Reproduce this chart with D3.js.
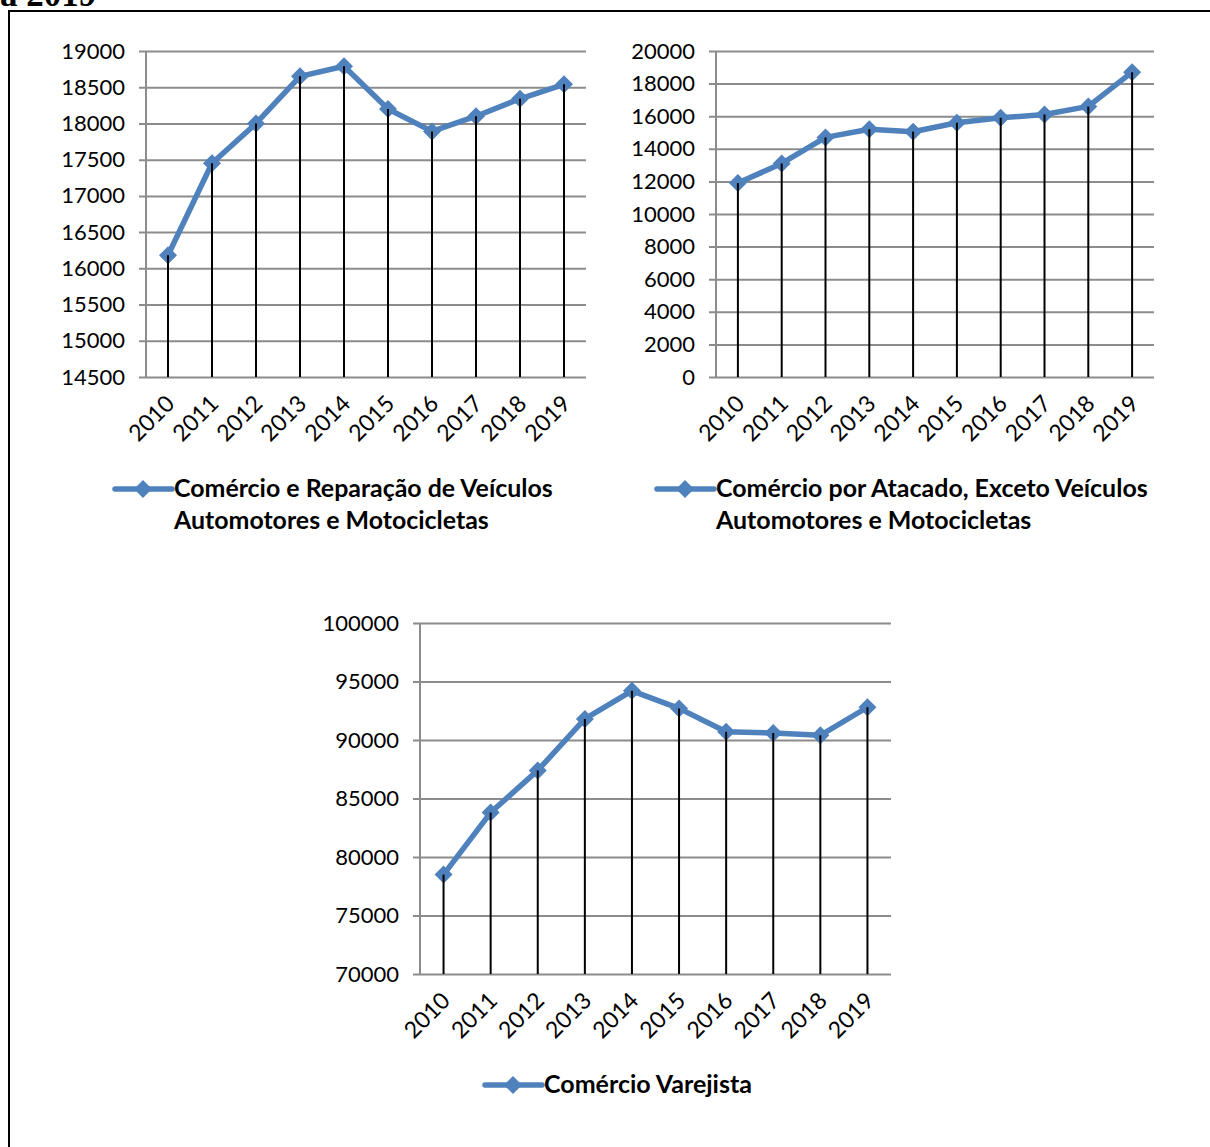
<!DOCTYPE html>
<html><head><meta charset="utf-8">
<script src="https://cdn.jsdelivr.net/npm/d3@7"></script>
<style>
html,body{margin:0;padding:0;background:#fff;}
svg{display:block;}
text{font-family:Lato,"Open Sans",sans-serif;}
</style></head>
<body>
<svg id="c" width="1210" height="1147"></svg>
<script>
const years = ["2010","2011","2012","2013","2014","2015","2016","2017","2018","2019"];
const veiculos = [16180,17450,18000,18650,18790,18200,17890,18100,18340,18540];
const atacado = [11900,13100,14700,15200,15050,15600,15900,16100,16600,18700];
const varejista = [78500,83800,87400,91800,94200,92700,90700,90600,90400,92800];
const ticks1 = [14500,15000,15500,16000,16500,17000,17500,18000,18500,19000];
const ticks2 = [0,2000,4000,6000,8000,10000,12000,14000,16000,18000,20000];
const ticks3 = [70000,75000,80000,85000,90000,95000,100000];
const legend1 = ["Comércio e Reparação de Veículos","Automotores e Motocicletas"];
const legend2 = ["Comércio por Atacado, Exceto Veículos","Automotores e Motocicletas"];
const legend3 = ["Comércio Varejista"];

const svg = d3.select("#c");
const BLUE = "#4F81BD", GRID = "#8c8c8c";

svg.append("rect").attr("x",9).attr("y",11).attr("width",1230).attr("height",1200)
  .attr("fill","none").attr("stroke","#000").attr("stroke-width",2);
svg.append("text").attr("x",0).attr("y",6).text("a 2019")
  .style("font-family","'Liberation Serif',serif").style("font-weight","bold").style("font-size","35px");

function diamond(sel, x, y, r){
  sel.append("path").attr("d",`M${x},${y-r}L${x+r},${y}L${x},${y+r}L${x-r},${y}Z`).attr("fill",BLUE);
}

function chart(o){
  const g = svg.append("g");
  const x = d3.scaleBand().domain(years).range([o.x0,o.x1]);
  const y = d3.scaleLinear().domain([o.ticks[0],o.ticks[o.ticks.length-1]]).range([o.y1,o.y0]);
  const yAxis = d3.axisLeft(y).tickValues(o.ticks).tickSize(-(o.x1-o.x0)).tickPadding(21).tickFormat(d3.format("d"));
  const ga = g.append("g").attr("transform",`translate(${o.x0},0)`).call(yAxis);
  ga.select(".domain").remove();
  ga.selectAll(".tick line").attr("stroke",GRID).attr("stroke-width",2).attr("x1",-7);
  ga.selectAll(".tick text").attr("fill","#000").style("font-size","22px").style("font-family","Lato,sans-serif");
  g.append("line").attr("x1",o.x0).attr("x2",o.x0).attr("y1",o.y0).attr("y2",o.y1).attr("stroke",GRID).attr("stroke-width",2);
  const xa = d3.axisBottom(x).tickSize(0).tickPadding(0);
  const gx = g.append("g").attr("transform",`translate(0,${o.y1})`).call(xa);
  gx.select(".domain").remove();
  gx.selectAll(".tick text").attr("fill","#000").style("font-size","23px").style("font-family","Lato,sans-serif")
    .attr("text-anchor","end").attr("dy",0).attr("transform","translate(8,28) rotate(-45)");
  const cx = d => x(d)+x.bandwidth()/2;
  const line = d3.line().x((d,i)=>cx(years[i])).y(d=>y(d));
  g.append("path").datum(o.data).attr("d",line).attr("fill","none").attr("stroke",BLUE).attr("stroke-width",5.5).attr("stroke-linejoin","round");
  o.data.forEach((v,i)=>diamond(g,cx(years[i]),y(v),9));
  g.selectAll(".drop").data(o.data).enter().append("line")
    .attr("x1",(d,i)=>cx(years[i])).attr("x2",(d,i)=>cx(years[i]))
    .attr("y1",d=>y(d)).attr("y2",o.y1).attr("stroke","#000").attr("stroke-width",2);
  const lg = g.append("g");
  lg.append("line").attr("x1",o.lx).attr("x2",o.lx+57).attr("y1",o.ly).attr("y2",o.ly).attr("stroke",BLUE).attr("stroke-width",5.5).attr("stroke-linecap","round");
  diamond(lg,o.lx+28,o.ly,9);
  o.legend.forEach((t,i)=>{
    const tx = lg.append("text").attr("x",o.lx+59).attr("y",o.ly+8+i*32).text(t)
      .style("font-weight","bold").style("font-size","20px").style("font-family","Lato,sans-serif");
    if(i===0){
      const w = tx.node().getComputedTextLength();
      o.fs = 20*o.tw/w;
    }
    tx.style("font-size",o.fs+"px");
  });
}

chart({data:veiculos,ticks:ticks1,x0:146,x1:586,y0:51,y1:377,lx:115,ly:489,legend:legend1,tw:379});
chart({data:atacado,ticks:ticks2,x0:716,x1:1154,y0:51,y1:377,lx:657,ly:489,legend:legend2,tw:432});
chart({data:varejista,ticks:ticks3,x0:420,x1:891,y0:623,y1:974,lx:485,ly:1085,legend:legend3,tw:208});
</script>
</body></html>
